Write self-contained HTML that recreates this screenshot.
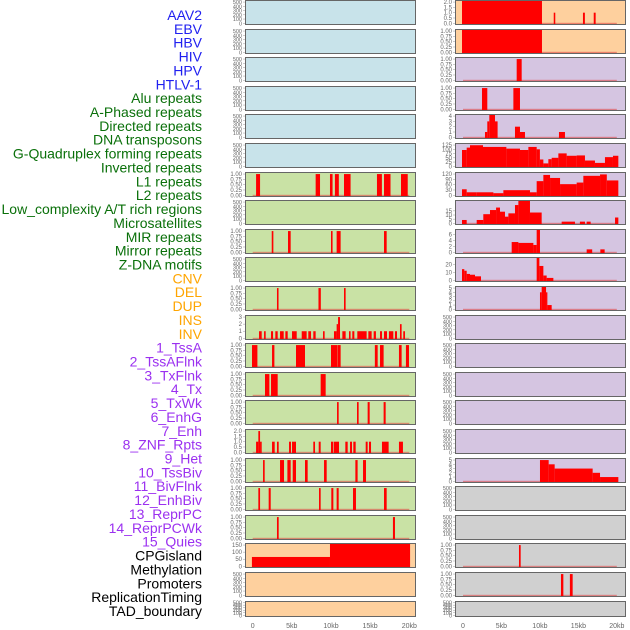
<!DOCTYPE html>
<html><head><meta charset="utf-8"><style>
html,body{margin:0;padding:0;background:#fff;width:630px;height:630px;overflow:hidden}
svg{display:block}
</style></head><body>
<svg id="chart" width="630" height="630" viewBox="0 0 630 630" xmlns="http://www.w3.org/2000/svg"></svg>
<script>
const trackLabels = ["AAV2","EBV","HBV","HIV","HPV","HTLV-1","Alu repeats","A-Phased repeats","Directed repeats","DNA transposons","G-Quadruplex forming repeats","Inverted repeats","L1 repeats","L2 repeats","Low_complexity A/T rich regions","Microsatellites","MIR repeats","Mirror repeats","Z-DNA motifs","CNV","DEL","DUP","INS","INV","1_TssA","2_TssAFlnk","3_TxFlnk","4_Tx","5_TxWk","6_EnhG","7_Enh","8_ZNF_Rpts","9_Het","10_TssBiv","11_BivFlnk","12_EnhBiv","13_ReprPC","14_ReprPCWk","15_Quies","CPGisland","Methylation","Promoters","ReplicationTiming","TAD_boundary"];
const labelGroups = ["v","v","v","v","v","v","r","r","r","r","r","r","r","r","r","r","r","r","r","s","s","s","s","s","c","c","c","c","c","c","c","c","c","c","c","c","c","c","c","o","o","o","o","o"];
const xTickKb = [0,5,10,15,20];
const xTickLabels = ["0","5kb","10kb","15kb","20kb"];
// panel backgrounds per row
const leftBg = ["b","b","b","b","b","b","g","g","g","g","g","g","g","g","g","g","g","g","g","o","o","o"];
const rightBg = ["o","o","p","p","p","p","p","p","p","p","p","p","p","p","p","p","p","y","y","y","y","y"];
// tick sets
const leftTicks = ["e","e","e","e","e","e","q","e","q","e","q",[0,1,2,3],"q","q","q",[0,0.5,1,1.5,2],"q","q","q",[0,50,100,150],"e","e"];
const rightTicks = [[0,0.5,1,1.5,2],"q","q","q",[0,1,2,3,4],[0,25,50,75,100,125],[0,30,60,90,120],[0,5,10,15],[0,2,4,6],[0,10,20],[0,1,2,3,4,5],"e","e","e","e","e",[0,1,2,3,4,5],"e","e","q","q","e"];
const rightVmax = {7:26.9, 8:7.6, 9:28};
// segments [startKb, endKb, value]
const leftSegs = {
 6:[[0.43,0.94,1],[8.04,8.6,1],[9.87,10.2,1],[10.5,11.0,1],[11.66,12.5,1],[15.87,16.5,1],[16.77,17.6,1],[18.94,19.8,1]],
 8:[[2.43,2.64,1],[4.51,4.85,1],[10.0,10.2,1],[10.72,11.23,1],[16.77,17.11,1]],
 10:[[3.1,3.3,1],[8.4,8.7,1],[11.66,11.87,1]],
 11:[[0.81,1.15,1],[1.45,1.66,1],[2.34,2.6,1],[2.89,3.19,1],[3.49,3.96,1],[4.17,4.47,1],[5.02,5.62,1],[6.26,6.89,1],[7.1,7.45,1],[7.74,8.04,1],[8.98,9.19,1],[10.38,10.72,1],[10.72,10.9,2],[10.9,11.15,3],[11.45,11.87,1],[12.3,12.5,1],[12.72,12.98,1],[13.36,14.55,1],[14.77,15.19,1],[15.45,15.74,1],[16.26,16.51,1],[16.77,17.15,1],[17.4,17.96,1],[18.17,18.43,1],[18.81,19.02,2],[19.23,19.45,1]],
 12:[[-0.09,0.6,1],[2.47,2.77,1],[5.53,6.68,1],[10.0,10.81,1],[10.85,11.23,1],[15.6,15.96,1],[16.26,16.72,1],[18.68,19.02,1],[19.57,19.96,1]],
 13:[[1.57,2.13,1],[2.34,3.19,1],[8.68,9.32,1]],
 14:[[10.77,10.98,1],[13.32,13.53,1],[14.68,14.94,1],[16.72,16.98,1]],
 15:[[0.43,0.72,1],[0.72,0.94,2],[0.94,1.15,1],[2.47,2.81,1],[3.1,3.32,1],[4.64,4.89,1],[5.02,5.53,1],[7.74,7.96,1],[8.43,8.68,1],[10.0,10.3,1],[10.38,11.02,1],[11.83,12.13,1],[12.43,12.68,1],[12.85,13.15,1],[14.43,14.68,1],[14.85,15.11,1],[16.51,17.36,1],[18.68,19.19,1]],
 16:[[1.32,1.53,1],[3.49,4.0,1],[4.43,4.85,1],[5.11,5.53,1],[6.68,7.02,1],[9.11,9.45,1],[13.11,13.4,1],[14.09,14.47,1]],
 17:[[0.72,0.94,1],[2.04,2.3,1],[8.47,8.68,1],[10.04,10.3,1],[10.72,10.98,1],[12.81,13.19,1],[16.77,17.11,1]],
 18:[[3.1,3.32,1],[17.91,18.17,1]],
 19:[[-0.1,9.87,66],[9.87,20.1,160]]
};
const rightSegs = {
 0:[[-0.13,10.27,2.5],[11.8,12.0,1],[15.6,15.85,1],[17.0,17.25,1]],
 1:[[-0.13,10.27,1.2]],
 2:[[6.98,7.63,1]],
 3:[[2.47,3.16,1],[6.55,7.41,1]],
 4:[[2.86,3.16,1],[3.16,3.42,3],[3.42,4.16,4.2],[4.16,4.5,3],[6.76,7.41,2],[7.41,8.06,1],[12.48,13.26,1]],
 5:[[-0.13,0.48,96],[0.48,0.91,110],[0.91,2.6,124],[2.6,5.64,114],[5.64,7.41,104],[7.41,8.5,96],[8.5,9.58,114],[9.58,10.0,100],[10.0,10.45,40],[10.45,11.1,17],[11.1,11.53,42],[11.53,12.4,50],[12.4,13.48,76],[13.48,14.78,62],[14.78,15.86,64],[15.86,17.16,34],[17.16,18.46,20],[18.46,19.5,54],[19.5,20.2,62]],
 6:[[-0.13,0.48,34],[0.48,1.78,17],[1.78,3.95,17],[3.95,5.25,12],[5.25,8.71,29],[8.71,9.58,17],[9.58,10.45,80],[10.45,11.32,115],[11.32,12.62,98],[12.62,14.78,63],[14.78,15.65,72],[15.65,17.82,110],[17.82,18.7,118],[18.7,20.2,84]],
 7:[[-0.13,0.48,4],[1.78,2.64,4],[2.64,3.51,11],[3.51,4.3,16],[4.3,4.81,19],[4.81,5.46,14],[5.46,5.9,8],[5.9,6.76,12],[6.76,7.2,22],[7.2,8.71,28],[8.71,10.23,13],[12.83,14.56,2],[15.2,15.86,2],[16.08,16.6,2],[19.77,20.2,7]],
 8:[[6.33,7.2,3.5],[7.2,9.15,3.2],[9.15,9.58,2.5],[9.58,10.01,8],[16.08,16.8,1],[17.86,18.42,1]],
 9:[[-0.13,0.17,14],[0.17,0.48,12],[0.48,0.91,8],[0.91,1.56,7],[1.56,2.34,5],[9.58,9.93,29],[9.93,10.45,18],[10.45,10.88,6],[10.88,11.75,3]],
 10:[[10.01,10.23,4],[10.23,10.8,5.3],[10.8,10.97,4],[10.97,11.53,1]],
 16:[[10.01,11.14,5],[11.14,11.92,4],[11.92,16.86,3],[16.86,17.82,2],[17.82,20.2,1]],
 19:[[7.28,7.5,1]],
 20:[[12.74,13.05,1],[13.9,14.26,1]]
};

const NS="http://www.w3.org/2000/svg";
const svg=document.getElementById('chart');
function mk(tag,attrs,parent){const e=document.createElementNS(NS,tag);for(const k in attrs)e.setAttribute(k,attrs[k]);(parent||svg).appendChild(e);return e;}
const bgColors={b:"#c8e3ea",g:"#c9e2a5",o:"#fed09e",p:"#d5c5e1",y:"#d0d0d0"};
const labelColors={v:"#2020f0",r:"#0a700a",s:"#ffa500",c:"#9b30f0",o:"#000000"};
const PITCH=28.6;
const cols=[{x0:245,x1:416,zero:252.7,pxkb:7.83,tx:242},{x0:455,x1:626,zero:463,pxkb:7.69,tx:452}];

// labels
trackLabels.forEach((t,i)=>{
  const el=mk('text',{x:202,y:(20+i*13.86).toFixed(1),'text-anchor':'end','font-family':'Liberation Sans, sans-serif','font-size':14,fill:labelColors[labelGroups[i]]});
  el.textContent=t;
  
  
});

function fmt(v,ticks){
  if(ticks==="q") return v.toFixed(2);
  if(Array.isArray(ticks) && ticks.some(t=>t%1!==0)) return v.toFixed(1);
  return String(v);
}
function drawPanel(ci,row){
  const c=cols[ci];
  const top=Math.round(row*PITCH);
  const h=row===21?16:25;
  const bgKey=ci===0?leftBg[row]:rightBg[row];
  const tk=ci===0?leftTicks[row]:rightTicks[row];
  const segs=(ci===0?leftSegs:rightSegs)[row];
  const g=mk('g',{});
  
  
  const cid='clip'+ci+'_'+row;
  const cp=mk('clipPath',{id:cid},g);
  mk('rect',{x:c.x0,y:top,width:c.x1-c.x0,height:h},cp);
  const bg=mk('rect',{x:c.x0,y:top,width:c.x1-c.x0,height:h,fill:bgColors[bgKey]},g);
  
  
  let ticks = tk==="e"?[0,100,200,300,400,500]:(tk==="q"?[0,0.25,0.5,0.75,1]:tk);
  let maxT=ticks[ticks.length-1];
  let vmax=(ci===1&&rightVmax[row])?rightVmax[row]:maxT*1.05;
  const zeroY=top+h-1.7;
  const span=h-2.7;
  const yv=v=>zeroY-v/vmax*span;
  // ticks
  ticks.forEach(t=>{
    const lab=mk('text',{x:c.tx,y:(yv(t)+2).toFixed(1),'text-anchor':'end','font-family':'Liberation Sans, sans-serif','font-size':tk==="e"?5.5:6,fill:'#666'},g);
    lab.textContent=fmt(t,tk);
    
    
    mk('line',{x1:c.x0-2,x2:c.x0,y1:yv(t),y2:yv(t),stroke:'#999','stroke-width':0.5},g);
  });
  const xs=kb=>c.zero+kb*c.pxkb;
  if(segs){
    const clipG=mk('g',{'clip-path':'url(#'+cid+')'},g);
    if(!(ci===0&&row===19)){
      const bl=mk('rect',{x:xs(0),y:zeroY-0.5,width:xs(20)-xs(0),height:1.6,fill:'#e04040','fill-opacity':0.55},clipG);
      
      
    }
    segs.forEach(s=>{
      const x=xs(s[0]),w=Math.max(xs(s[1])-x,1.2);
      const y=yv(s[2]);
      const r=mk('rect',{x:x.toFixed(2),y:y.toFixed(2),width:w.toFixed(2),height:(top+h-y).toFixed(2),fill:'#ff0000'},clipG);
      
      
    });
  }
  const br=mk('rect',{x:c.x0+0.5,y:top+0.5,width:c.x1-c.x0-1,height:h-1,fill:'none',stroke:'#666','stroke-width':1},g);
  
  
}
for(let r=0;r<22;r++){drawPanel(0,r);drawPanel(1,r);}
// x axes
cols.forEach((c,ci)=>{
  xTickKb.forEach((kb,i)=>{
    const t=mk('text',{x:(c.zero+kb*c.pxkb).toFixed(1),y:628,'text-anchor':'middle','font-family':'Liberation Sans, sans-serif','font-size':7,fill:'#666'});
    t.textContent=xTickLabels[i];
    
    
  });
});
</script>
</body></html>
